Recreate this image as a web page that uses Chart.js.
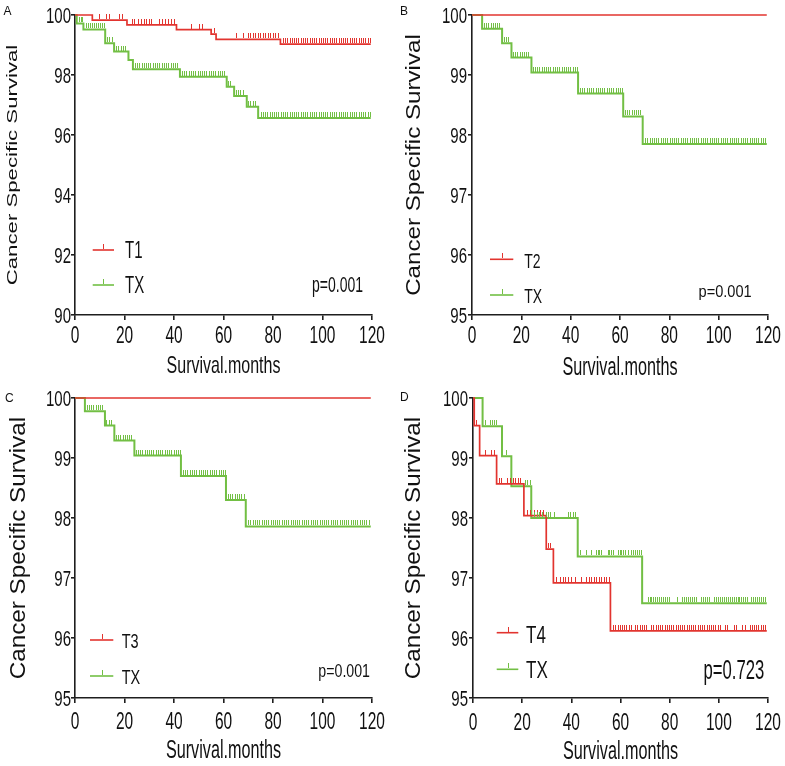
<!DOCTYPE html>
<html><head><meta charset="utf-8">
<script src="https://cdn.jsdelivr.net/npm/chart.js@4.4.0/dist/chart.umd.min.js"></script>
<style>
html,body{margin:0;padding:0;background:#fff;}
body{width:785px;height:766px;position:relative;overflow:hidden;}
canvas{position:absolute;display:block;}
</style>
</head><body>
<canvas id="cA" width="393" height="383" style="left:0px;top:0px"></canvas>
<canvas id="cB" width="392" height="383" style="left:393px;top:0px"></canvas>
<canvas id="cC" width="393" height="383" style="left:0px;top:383px"></canvas>
<canvas id="cD" width="392" height="383" style="left:393px;top:383px"></canvas>
<script>
// ---------------- DATA ----------------
const xTickValues = [0, 20, 40, 60, 80, 100, 120];
const yTicksA = [90, 92, 94, 96, 98, 100];
const yTicksBCD = [95, 96, 97, 98, 99, 100];
const xTitle = 'Survival.months';
const yTitle = 'Cancer Specific Survival';
const panelLetters = ['A', 'B', 'C', 'D'];
const pLabels = ['p=0.001', 'p=0.001', 'p=0.001', 'p=0.723'];
const seriesNames = [['T1', 'TX'], ['T2', 'TX'], ['T3', 'TX'], ['T4', 'TX']];

// Panel A
const timesA_T1 = [0, 7, 21, 41, 55, 57, 83, 119.5];
const survA_T1  = [100, 99.83, 99.67, 99.51, 99.36, 99.19, 99.03, 99.03];
const censA_T1  = [9.6,12.6,13.7,17.7,19,23.1,24,25.4,26.7,27.7,28.5,29.8,30.8,34.1,35.2,36.2,37.5,38.9,39.8,
  46.9,50.3,51.4,56,65,67.8,69.8,70.8,71.8,72.8,73.8,74.8,75.8,76.8,77.8,78.8,79.8,80.8,82,
  84,84.9,85.8,86.7,87.6,88.5,89.4,90.3,91.2,92.1,93,93.9,94.8,95.7,96.6,97.5,98.4,99.3,100.2,101.1,102,
  102.9,103.8,104.7,105.6,106.5,107.4,108.3,109.2,110.1,111,111.9,112.8,113.7,114.6,115.5,116.4,117.3,118.2,119.1];
const timesA_TX = [0, 0.7, 3.4, 12.2, 15.8, 21.6, 23.4, 42.4, 61.3, 64.3, 69.4, 74, 119.5];
const survA_TX  = [100, 99.72, 99.52, 99.06, 98.78, 98.5, 98.19, 97.94, 97.61, 97.3, 96.94, 96.57, 96.57];
const censA_TX  = [1.5,2.3,3,4.4,5.2,6,6.8,7.6,8.4,9.2,10,10.8,11.6,13,13.9,14.8,16.6,17.5,18.4,19.3,20.2,
  24.2,25.1,26,26.9,27.8,28.7,29.6,30.5,31.4,32.3,33.2,34.1,35,35.9,36.8,37.7,38.6,39.5,40.4,41.3,
  43.2,44.1,45,45.9,46.8,47.7,48.6,49.5,50.4,51.3,52.2,53.1,54,54.9,55.8,56.7,57.6,58.5,59.4,60.3,
  61.8,62.7,65,65.9,66.8,67.7,70,70.9,71.8,72.7,
  75,75.9,76.8,77.7,78.6,79.5,80.4,81.3,82.2,83.1,84,84.9,85.8,86.7,87.6,88.5,89.4,90.3,91.2,92.1,93,93.9,
  94.8,95.7,96.6,97.5,98.4,99.3,100.2,101.1,102,102.9,103.8,104.7,105.6,106.5,107.4,108.3,109.2,110.1,111,
  111.9,112.8,113.7,114.6,115.5,116.4,117.3,118.2,119.1];

// Panel B
const timesB_T2 = [0, 119.5];
const survB_T2  = [100, 100];
const censB_T2  = [];
const timesB_TX = [0, 4.1, 12.2, 16, 24.1, 43, 61.3, 69.2, 119.5];
const survB_TX  = [100, 99.77, 99.53, 99.29, 99.04, 98.69, 98.31, 97.85, 97.85];
const censB_TX  = [4.8,5.7,6.6,7.5,8.4,9.3,10.2,11.1,12.8,13.7,14.6,16.6,17.5,18.4,19.3,20.2,21.1,22,22.9,
  24.6,25.5,26.4,27.3,28.2,29.1,30,30.9,31.8,32.7,33.6,34.5,35.4,36.3,37.2,38.1,39,39.9,40.8,41.7,42.6,
  43.8,44.7,45.6,46.5,47.4,48.3,49.2,50.1,51,51.9,52.8,53.7,54.6,55.5,56.4,57.3,58.2,59.1,60,60.9,
  62,62.9,63.8,64.7,65.6,66.5,67.4,68.3,
  70.2,71.1,72,72.9,73.8,74.7,75.6,76.5,77.4,78.3,79.2,80.1,81,81.9,82.8,83.7,84.6,85.5,86.4,87.3,88.2,89.1,
  90,90.9,91.8,92.7,93.6,94.5,95.4,96.3,97.2,98.1,99,99.9,100.8,101.7,102.6,103.5,104.4,105.3,106.2,107.1,
  108,108.9,109.8,110.7,111.6,112.5,113.4,114.3,115.2,116.1,117,117.9,118.8];

// Panel C
const timesC_T3 = [0, 119.5];
const survC_T3  = [100, 100];
const censC_T3  = [];
const timesC_TX = [0, 4, 12.1, 15.9, 24, 42.8, 61, 69, 119.5];
const survC_TX  = [100, 99.78, 99.54, 99.29, 99.04, 98.7, 98.3, 97.86, 97.86];
const censC_TX  = [4.7,5.6,6.5,7.4,8.3,9.2,10.1,11,12.7,13.6,14.5,16.5,17.4,18.3,19.2,20.1,21,21.9,22.8,
  24.5,25.4,26.3,27.2,28.1,29,29.9,30.8,31.7,32.6,33.5,34.4,35.3,36.2,37.1,38,38.9,39.8,40.7,41.6,42.4,
  43.6,44.5,45.4,46.3,47.2,48.1,49,49.9,50.8,51.7,52.6,53.5,54.4,55.3,56.2,57.1,58,58.9,59.8,60.6,
  61.8,62.7,63.6,64.5,65.4,66.3,67.2,68.1,
  70,70.9,71.8,72.7,73.6,74.5,75.4,76.3,77.2,78.1,79,79.9,80.8,81.7,82.6,83.5,84.4,85.3,86.2,87.1,88,88.9,
  89.8,90.7,91.6,92.5,93.4,94.3,95.2,96.1,97,97.9,98.8,99.7,100.6,101.5,102.4,103.3,104.2,105.1,106,106.9,
  107.8,108.7,109.6,110.5,111.4,112.3,113.2,114.1,115,115.9,116.8,117.7,118.6];

// Panel D
const timesD_T4 = [0, 0.5, 2.7, 9.6, 20.7, 29.8, 32.7, 55.9, 119.5];
const survD_T4  = [100, 99.54, 99.04, 98.57, 98.04, 97.48, 96.92, 96.12, 96.12];
const censD_T4  = [1.4,4.8,7.3,8.5,10.5,11.5,13.8,15,16.2,17.2,18.2,19.3,21.8,23,25,26.2,27.3,28.5,30.5,31.5,
  33.8,35.2,36.5,37.5,38.6,40,41.3,44,46.1,47,48.1,49.2,50.1,51.1,52.2,53.2,54.2,55.2,
  57,57.9,58.8,59.7,60.6,61.5,62.4,63.3,64.2,66,66.9,67.8,68.7,69.6,70.5,
  72.5,73.4,74.3,75.2,76.1,77,77.9,78.8,79.7,80.6,81.5,82.4,83.3,84.2,85.1,86,86.9,87.8,88.7,89.6,90.5,
  91.4,92.3,93.2,94.1,95,95.9,96.8,97.7,98.6,99.5,100.4,102.5,103.5,106,107,109.5,110.5,
  112.5,113.4,114.3,115.2,116.1,117,117.9,118.8];
const timesD_TX = [0, 3.9, 11.8, 15.6, 23.7, 42.6, 68.8, 119.5];
const survD_TX  = [100, 99.53, 99.03, 98.53, 98.0, 97.36, 96.58, 96.58];
const censD_TX  = [4.8,6.8,7.6,8.4,9.4,13.5,21,22,23,25,26,27,28,29.5,30.5,31.5,33,38.5,39.5,40.5,41.5,
  43.5,46,48,50,50.7,51.4,52.1,54.8,55.5,56.2,56.9,58.8,59.6,60.4,61.2,62,62.9,64.3,65.1,65.9,66.7,67.5,68.3,
  71,71.8,72.6,73.4,74.2,75,75.8,76.6,77.4,78.2,79,79.8,83,85,85.8,86.6,87.4,88.2,89,89.8,90.6,
  92.7,93.5,94.3,95.1,95.9,98,98.8,99.6,100.4,101.2,102,102.8,103.6,104.4,105.2,106,106.8,107.6,108.4,
  109.2,110,110.8,111.6,113,113.8,114.6,115.4,116.2,117,117.9,118.6];

// ---------------- STYLES / LAYOUT ----------------
const RED = '#e2342f';
const GREEN = '#72bf44';
const AXIS = '#1e1e1e';
const FONT = "'Liberation Sans', Arial, Helvetica, sans-serif";

const panels = [
  { id:'cA', idx:0, yTicks:yTicksA, yMin:90, yMax:100, yW:75, padR:21,
    series:[[timesA_T1,survA_T1,censA_T1],[timesA_TX,survA_TX,censA_TX]],
    yTick:{size:15,k:1.45,right:71}, xTick:{size:15.5,k:1.5,base:343},
    xT:{size:16,k:1.5,base:373}, yT:{size:15,k:1.48,base:17.3},
    letter:{x:3.5,base:15,size:12},
    legend:{y:[250,285],x0:92.7,x1:114,tx:125,base:[258,293],size:15,k:1.6},
    p:{right:363,base:291.7,size:14,k:1.55} },
  { id:'cB', idx:1, yTicks:yTicksBCD, yMin:95, yMax:100, yW:79, padR:17,
    series:[[timesB_T2,survB_T2,censB_T2],[timesB_TX,survB_TX,censB_TX]],
    yTick:{size:15,k:1.5,right:74}, xTick:{size:15.5,k:1.55,base:343},
    xT:{size:16.2,k:1.55,base:375}, yT:{size:21,k:1.15,base:27},
    letter:{x:7,base:15,size:12},
    legend:{y:[259.3,295],x0:97,x1:120.3,tx:131.3,base:[268.3,302.7],size:14,k:1.5},
    p:{right:358.7,base:296.7,size:14.6,k:1.12} },
  { id:'cC', idx:2, yTicks:yTicksBCD, yMin:95, yMax:100, yW:75, padR:21,
    series:[[timesC_T3,survC_T3,censC_T3],[timesC_TX,survC_TX,censC_TX]],
    yTick:{size:15,k:1.5,right:71}, xTick:{size:15.5,k:1.55,base:346},
    xT:{size:16.2,k:1.55,base:375}, yT:{size:22,k:1.1,base:25},
    letter:{x:5,base:18.7,size:12},
    legend:{y:[257,293],x0:90,x1:113.3,tx:121.7,base:[265,301],size:14.5,k:1.45},
    p:{right:370,base:293.7,size:14.2,k:1.3} },
  { id:'cD', idx:3, yTicks:yTicksBCD, yMin:95, yMax:100, yW:80, padR:17,
    series:[[timesD_T4,survD_T4,censD_T4],[timesD_TX,survD_TX,censD_TX]],
    yTick:{size:15,k:1.5,right:75}, xTick:{size:15.5,k:1.55,base:347},
    xT:{size:16.2,k:1.55,base:376}, yT:{size:22,k:1.1,base:27},
    letter:{x:7,base:18,size:12},
    legend:{y:[249.7,286.3],x0:103.7,x1:125.3,tx:133,base:[259.7,295.3],size:17,k:1.45},
    p:{right:371.3,base:296.3,size:16.7,k:1.6} }
];

const colors = [RED, GREEN];

function survAt(times, surv, t) {
  let v = surv[0];
  for (let i = 0; i < times.length; i++) { if (times[i] <= t) v = surv[i]; }
  return v;
}

function sText(ctx, text, x, y, size, k, align, rotate) {
  ctx.save();
  ctx.translate(x, y);
  if (rotate) { ctx.rotate(-Math.PI / 2); ctx.scale(k, 1); }
  else ctx.scale(1, k);
  ctx.font = size + 'px ' + FONT;
  ctx.textAlign = align;
  ctx.textBaseline = 'alphabetic';
  ctx.fillStyle = '#111';
  ctx.fillText(text, 0, 0);
  ctx.restore();
}

// censor tick marks: drawn at the positions the library computed for the censor points
const censorPlugin = {
  id: 'kmCensor',
  afterDatasetsDraw(chart) {
    const ctx = chart.ctx;
    ctx.save();
    chart.data.datasets.forEach((ds, i) => {
      if (!ds.isCensor) return;
      const meta = chart.getDatasetMeta(i);
      ctx.fillStyle = ds.borderColor;
      meta.data.forEach(pt => {
        ctx.fillRect(Math.round(pt.x), Math.round(pt.y) - 6, 1, 5);
      });
    });
    ctx.restore();
  }
};

const textPlugin = {
  id: 'kmText',
  afterDraw(chart) {
    const P = chart.options.plugins.kmText;
    const ctx = chart.ctx;
    const ca = chart.chartArea;
    const xs = chart.scales.x, ys = chart.scales.y;
    ys.ticks.forEach(t => {
      const py = ys.getPixelForValue(t.value);
      const h = 0.716 * P.yTick.size * P.yTick.k;
      sText(ctx, String(t.value), P.yTick.right, py + h / 2, P.yTick.size, P.yTick.k, 'right', false);
    });
    xs.ticks.forEach(t => {
      const px = xs.getPixelForValue(t.value);
      sText(ctx, String(t.value), px, P.xTick.base, P.xTick.size, P.xTick.k, 'center', false);
    });
    sText(ctx, xTitle, (ca.left + ca.right) / 2, P.xT.base, P.xT.size, P.xT.k, 'center', false);
    sText(ctx, yTitle, P.yT.base, (ca.top + ca.bottom) / 2, P.yT.size, P.yT.k, 'center', true);
    sText(ctx, panelLetters[P.idx], P.letter.x, P.letter.base, P.letter.size, 1, 'left', false);
    const L = P.legend;
    seriesNames[P.idx].forEach((name, i) => {
      ctx.save();
      ctx.strokeStyle = colors[i];
      ctx.lineWidth = 1.6;
      ctx.beginPath();
      ctx.moveTo(L.x0, L.y[i]); ctx.lineTo(L.x1, L.y[i]);
      ctx.stroke();
      const mx = Math.round((L.x0 + L.x1) / 2);
      ctx.fillStyle = colors[i];
      ctx.fillRect(mx, Math.round(L.y[i]) - 6, 1, 5);
      ctx.restore();
      sText(ctx, name, L.tx, L.base[i], L.size, L.k, 'left', false);
    });
    sText(ctx, pLabels[P.idx], P.p.right, P.p.base, P.p.size, P.p.k, 'right', false);
  }
};

panels.forEach(P => {
  const datasets = [];
  P.series.forEach((s, i) => {
    const [times, surv, cens] = s;
    datasets.push({
      label: seriesNames[P.idx][i],
      data: times.map((t, j) => ({ x: t, y: surv[j] })),
      showLine: true, stepped: true, clip: false,
      borderColor: colors[i], backgroundColor: colors[i],
      borderWidth: i === 0 ? 1.7 : 2,
      pointRadius: 0, pointHoverRadius: 0, fill: false,
      order: i === 0 ? 1 : 3
    });
    datasets.push({
      label: seriesNames[P.idx][i] + ' censored',
      isCensor: true,
      data: cens.map(t => ({ x: t, y: survAt(times, surv, t) })),
      showLine: false, clip: false,
      pointRadius: 0, pointHoverRadius: 0,
      borderColor: colors[i], backgroundColor: colors[i],
      order: i === 0 ? 0 : 2
    });
  });

  const axisCommon = (len) => ({
    type: 'linear',
    border: { display: true, color: AXIS, width: 1.6 },
    grid: { display: true, drawOnChartArea: false, drawTicks: true, tickLength: len, color: AXIS, lineWidth: 1.6 },
    ticks: { display: false },
    title: { display: false }
  });

  const xAxis = Object.assign(axisCommon(5), {
    min: 0, max: 120,
    afterBuildTicks: sc => { sc.ticks = xTickValues.map(v => ({ value: v })); },
    afterFit: sc => { sc.height = 68; }
  });
  const yAxis = Object.assign(axisCommon(4), {
    min: P.yMin, max: P.yMax,
    afterBuildTicks: sc => { sc.ticks = P.yTicks.map(v => ({ value: v })); },
    afterFit: sc => { sc.width = P.yW; }
  });

  new Chart(document.getElementById(P.id), {
    type: 'scatter',
    data: { datasets },
    options: {
      responsive: false, maintainAspectRatio: false, animation: false, devicePixelRatio: 1,
      events: [],
      layout: { padding: { left: 0, right: P.padR, top: 15, bottom: 0 } },
      scales: { x: xAxis, y: yAxis },
      plugins: {
        legend: { display: false }, tooltip: { enabled: false }, title: { display: false },
        kmText: P
      }
    },
    plugins: [censorPlugin, textPlugin]
  });
});
</script>
</body></html>
